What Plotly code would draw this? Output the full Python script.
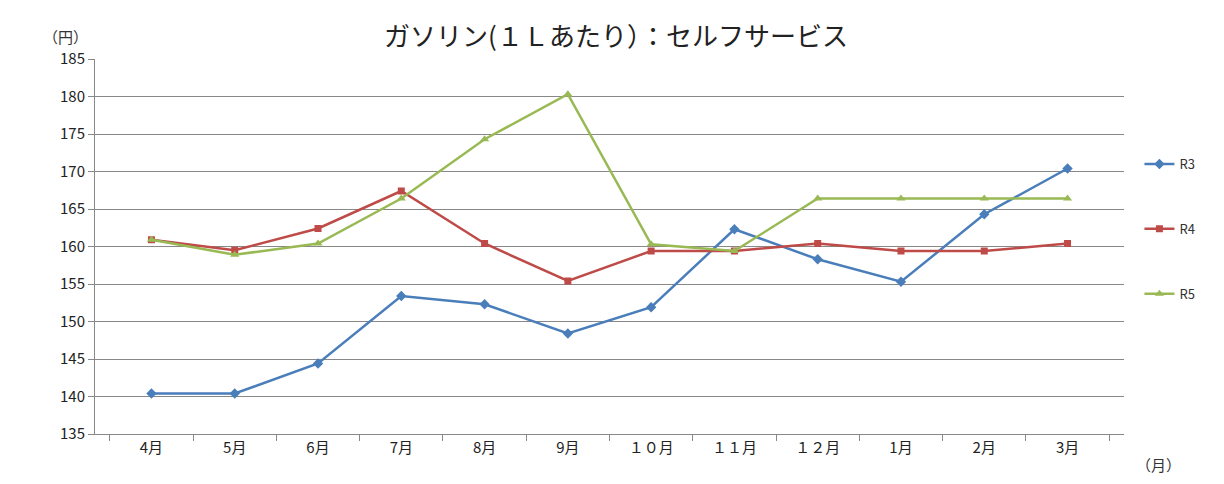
import plotly.graph_objects as go

months = ["4月", "5月", "6月", "7月", "8月", "9月", "１０月", "１１月", "１２月", "1月", "2月", "3月"]
r3 = [140.4, 140.4, 144.4, 153.4, 152.3, 148.4, 151.9, 162.3, 158.3, 155.3, 164.3, 170.4]
r4 = [160.9, 159.5, 162.4, 167.4, 160.4, 155.4, 159.4, 159.4, 160.4, 159.4, 159.4, 160.4]
r5 = [160.9, 158.9, 160.4, 166.4, 174.3, 180.3, 160.3, 159.4, 166.4, 166.4, 166.4, 166.4]

font = "Noto Sans CJK JP"
fig = go.Figure()
series = [("R3", r3, "#4a7ebb", "diamond", 8), ("R4", r4, "#be4b48", "square", 7), ("R5", r5, "#98b954", "triangle-up", 8)]
for name, vals, col, sym, size in series:
    fig.add_trace(go.Scatter(x=months, y=vals, name=name, legendgroup=name, mode="lines+markers",
                             line=dict(color=col, width=2.5), marker=dict(symbol=sym, size=size, color=col)))

fig.update_layout(
    width=1216, height=476,
    paper_bgcolor="white", plot_bgcolor="white",
    font=dict(family=font, size=14, color="#333"),
    title=dict(text="ガソリン(１Ｌあたり）：セルフサービス", x=0.5, xanchor="center", y=0.94, yanchor="middle",
               font=dict(size=26, color="#222")),
    margin=dict(l=87, r=100, t=51, b=50),
    showlegend=True,
    legend=dict(x=1.015, y=0.76, yanchor="top", tracegroupgap=45, bgcolor="rgba(0,0,0,0)",
                font=dict(size=13)),
    annotations=[
        dict(text="（円）", x=0, y=1, xref="paper", yref="paper", xanchor="center", yanchor="bottom",
             showarrow=False, font=dict(size=15), xshift=-30, yshift=10),
        dict(text="（月）", x=1.0, y=0, xref="paper", yref="paper", xanchor="left", yanchor="top",
             showarrow=False, font=dict(size=15), xshift=10, yshift=-18),
    ],
)
fig.update_xaxes(type="category", tickson="boundaries", ticks="outside", ticklen=6, tickcolor="#888",
                 showline=True, linecolor="#888", showgrid=False, tickfont=dict(size=15, color="#222"))
fig.update_yaxes(range=[135, 185], dtick=5, showgrid=True, gridcolor="#888", showline=True, linecolor="#888",
                 ticks="outside", ticklen=6, tickcolor="#888", zeroline=False, tickfont=dict(size=15, color="#222"))
fig.write_html("out.html")
